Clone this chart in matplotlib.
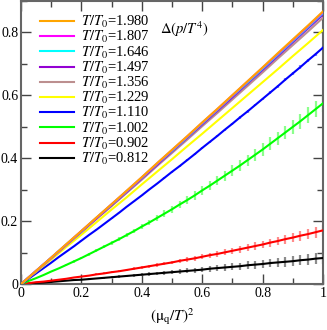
import matplotlib
matplotlib.use("Agg")
import matplotlib.pyplot as plt
from matplotlib.ticker import MultipleLocator, FixedLocator

plt.rcParams['font.family'] = ['Liberation Serif', 'DejaVu Serif']
plt.rcParams['mathtext.fontset'] = 'stix'

# (mu_q/T)^2 sample points, coarse grid for the upper curves
x_vals = [0.00, 0.05, 0.10, 0.15, 0.20, 0.25, 0.30, 0.35, 0.40, 0.45, 0.50,
          0.55, 0.60, 0.65, 0.70, 0.75, 0.80, 0.85, 0.90, 0.95, 1.00]
# finer grid for the curves that carry visible error bars
x_fine = [0.000, 0.025, 0.050, 0.075, 0.100, 0.125, 0.150, 0.175, 0.200,
          0.225, 0.250, 0.275, 0.300, 0.325, 0.350, 0.375, 0.400, 0.425,
          0.450, 0.475, 0.500, 0.525, 0.550, 0.575, 0.600, 0.625, 0.650,
          0.675, 0.700, 0.725, 0.750, 0.775, 0.800, 0.825, 0.850, 0.875,
          0.900, 0.925, 0.950, 0.975, 1.000]

labels = ["1.980", "1.807", "1.646", "1.497", "1.356",
          "1.229", "1.110", "1.002", "0.902", "0.812"]

colors = ["#ffa500", "#ff00ff", "#00ffff", "#9400d3", "#bc8f8f",
          "#ffff00", "#0000ff", "#00ff00", "#ff0000", "#000000"]
err_colors = [None, None, None, None, None,
              None, "#8c8cff", "#8cff8c", "#ff8c8c", "#8c8c8c"]

y_1980 = [0, .042, .084, .127, .169, .212, .254, .297, .340, .384, .427,
          .470, .514, .557, .601, .645, .689, .734, .778, .822, .867]
y_1807 = [0, .042, .084, .126, .169, .211, .254, .296, .339, .383, .426,
          .469, .513, .556, .600, .644, .688, .732, .776, .820, .865]
y_1646 = [0, .042, .084, .126, .168, .211, .253, .295, .338, .382, .424,
          .467, .511, .554, .598, .641, .685, .729, .773, .817, .862]
y_1497 = [0, .042, .083, .125, .167, .209, .251, .293, .336, .379, .422,
          .465, .508, .551, .594, .638, .681, .725, .769, .813, .857]
y_1356 = [0, .041, .082, .124, .165, .207, .248, .290, .332, .375, .417,
          .459, .502, .544, .587, .630, .673, .717, .760, .803, .847]
y_1229 = [0, .039, .078, .118, .157, .197, .237, .276, .317, .357, .397,
          .438, .478, .519, .560, .601, .642, .683, .725, .766, .808]

y_1110 = [0, .017, .034, .051, .068, .086, .103, .120, .138, .156, .173,
          .191, .209, .227, .246, .264, .282, .301, .319, .338, .357, .375,
          .394, .413, .433, .452, .471, .491, .510, .530, .549, .569, .589,
          .609, .629, .650, .670, .690, .711, .731, .752]
y_1002 = [0, .010, .019, .029, .040, .050, .061, .072, .083, .095, .107,
          .119, .131, .143, .156, .169, .183, .196, .210, .224, .238, .253,
          .267, .282, .298, .313, .329, .345, .361, .377, .394, .411, .428,
          .446, .464, .482, .500, .518, .537, .556, .575]
y_0902 = [0, .003, .006, .008, .011, .014, .017, .021, .024, .027, .031,
          .034, .038, .041, .045, .049, .053, .057, .061, .065, .069, .074,
          .078, .082, .087, .092, .096, .101, .106, .111, .116, .121, .126,
          .132, .137, .143, .148, .154, .159, .165, .171]
y_0812 = [0, .002, .004, .005, .007, .009, .011, .013, .014, .016, .018,
          .020, .022, .024, .026, .028, .030, .032, .034, .036, .038, .040,
          .042, .044, .046, .049, .051, .053, .055, .057, .060, .062, .064,
          .067, .069, .071, .073, .076, .078, .081, .083]

e_1110 = [0, 0, 0, 0, .0005, .0005, .0005, .0008, .001, .001, .001,
          .0012, .0014, .0015, .0016, .0018, .002, .002, .0022, .0024, .0025,
          .0026, .0028, .003, .003, .0032, .0034, .0035, .0036, .0038, .004,
          .004, .0042, .0044, .0045, .0046, .0048, .005, .005, .0052, .0055]
e_1002 = [0, .0005, .001, .0015, .002, .0025, .003, .0035, .004, .0045, .005,
          .0055, .006, .0065, .007, .0075, .008, .009, .010, .0105, .011,
          .0115, .012, .013, .014, .0145, .015, .016, .017, .0175, .018,
          .019, .020, .0205, .021, .022, .023, .024, .025, .026, .027]
e_0902 = [0, .0003, .0005, .0008, .001, .0013, .0015, .0018, .002, .0025, .003,
          .003, .003, .0035, .004, .0045, .005, .005, .005, .0055, .006,
          .0065, .007, .0075, .008, .0085, .009, .0095, .010, .0105, .011,
          .0115, .012, .0125, .013, .014, .015, .0155, .016, .017, .018]
e_0812 = [0, .0003, .0005, .0008, .001, .0013, .0015, .0018, .002, .0025, .003,
          .003, .0035, .004, .0045, .005, .005, .0055, .006, .0065, .007,
          .0075, .008, .0085, .009, .0095, .010, .0105, .011, .0115, .012,
          .0125, .013, .0135, .014, .015, .016, .0165, .017, .018, .019]

series = [y_1980, y_1807, y_1646, y_1497, y_1356,
          y_1229, y_1110, y_1002, y_0902, y_0812]
errors = [None, None, None, None, None,
          None, e_1110, e_1002, e_0902, e_0812]

fig = plt.figure(figsize=(3.27, 3.30), dpi=100)
ax = fig.add_axes([0.064, 0.139, 0.924, 0.858])

# draw lowest curve first so top ones sit on top
for i in reversed(range(len(series))):
    if errors[i] is not None:
        ax.errorbar(x_fine, series[i], yerr=errors[i], fmt='none',
                    ecolor=err_colors[i], elinewidth=1.6, capsize=0, zorder=2)
for i in reversed(range(len(series))):
    xs = x_fine if len(series[i]) == len(x_fine) else x_vals
    ax.plot(xs, series[i], color=colors[i], lw=1.5, zorder=3,
            label=r'$T/T_0$=' + labels[i])

ax.set_xlim(0, 1)
ax.set_ylim(0, 0.9)

ax.xaxis.set_major_locator(FixedLocator([0, 0.2, 0.4, 0.6, 0.8, 1.0]))
ax.xaxis.set_minor_locator(MultipleLocator(0.1))
ax.yaxis.set_major_locator(FixedLocator([0, 0.2, 0.4, 0.6, 0.8]))
ax.yaxis.set_minor_locator(MultipleLocator(0.1))
ax.set_xticklabels(["0", "0.2", "0.4", "0.6", "0.8", "1"])
ax.set_yticklabels(["0", "0.2", "0.4", "0.6", "0.8"])

ax.tick_params(which='both', direction='in', top=True, right=True,
               labelsize=10, color='#444444', pad=2)
ax.tick_params(which='major', length=7, width=1)
ax.tick_params(which='minor', length=4, width=1)
for sp in ax.spines.values():
    sp.set_color('#666666')
    sp.set_linewidth(1.5)

handles, labs = ax.get_legend_handles_labels()
ax.legend(handles[::-1], labs[::-1], loc='upper left',
          bbox_to_anchor=(0.035, 0.985), frameon=False, fontsize=10.5,
          handlelength=2.3, handletextpad=0.5, labelspacing=-0.06,
          borderaxespad=0.2)

ax.text(0.46, 0.90, r'$\Delta(p/T^4)$', transform=ax.transAxes,
        fontsize=10.5, ha='left', va='center')

ax.set_xlabel(r'$(\mathrm{\mu}_\mathrm{q}/T)^2$', fontsize=11, labelpad=5)

fig.savefig("out.png", dpi=100)
